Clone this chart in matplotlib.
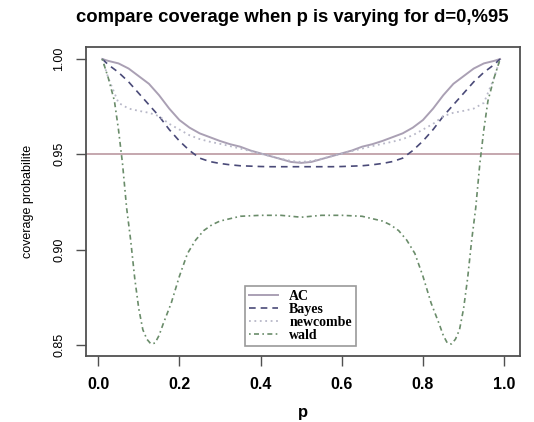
import matplotlib
matplotlib.use("Agg")
import matplotlib.pyplot as plt

# ---- data ----
p = [0.01, 0.025, 0.05, 0.075, 0.10, 0.125, 0.15, 0.175, 0.20, 0.225, 0.25, 0.275,
     0.30, 0.325, 0.35, 0.375, 0.40, 0.425, 0.45, 0.475, 0.50,
     0.525, 0.55, 0.575, 0.60, 0.625, 0.65, 0.675, 0.70, 0.725, 0.75, 0.775,
     0.80, 0.825, 0.85, 0.875, 0.90, 0.925, 0.95, 0.975, 0.99]

ac = [1.000, 0.999, 0.9977, 0.995, 0.991, 0.987, 0.981, 0.974, 0.968, 0.964, 0.961, 0.959,
      0.957, 0.9553, 0.954, 0.952, 0.9505, 0.949, 0.9475, 0.946, 0.9455,
      0.946, 0.9475, 0.949, 0.9505, 0.952, 0.954, 0.9553, 0.957, 0.959, 0.961, 0.964,
      0.968, 0.974, 0.981, 0.987, 0.991, 0.995, 0.9977, 0.999, 1.000]

bayes = [1.000, 0.997, 0.993, 0.988, 0.982, 0.976, 0.970, 0.963, 0.957, 0.952, 0.948, 0.9462,
         0.9452, 0.9445, 0.944, 0.9438, 0.9436, 0.9435, 0.9435, 0.9435, 0.9435,
         0.9435, 0.9435, 0.9435, 0.9436, 0.9438, 0.944, 0.9445, 0.9452, 0.9462, 0.948, 0.952,
         0.957, 0.963, 0.970, 0.976, 0.982, 0.988, 0.993, 0.997, 1.000]

newcombe = [1.000, 0.990, 0.977, 0.974, 0.9728, 0.9718, 0.970, 0.966, 0.963, 0.960, 0.958, 0.9566,
            0.9555, 0.9543, 0.953, 0.9517, 0.9503, 0.949, 0.9477, 0.9465, 0.946,
            0.9465, 0.9477, 0.949, 0.9503, 0.9517, 0.953, 0.9543, 0.9555, 0.9566, 0.958, 0.960,
            0.963, 0.966, 0.970, 0.9718, 0.9728, 0.974, 0.977, 0.990, 1.000]

p_wald = [0.01, 0.025, 0.04, 0.05, 0.06, 0.07, 0.08, 0.09, 0.10, 0.11, 0.12, 0.13, 0.14,
          0.15, 0.16, 0.18, 0.20, 0.22, 0.24, 0.26, 0.28, 0.30, 0.35, 0.40, 0.45, 0.50,
          0.55, 0.60, 0.65, 0.70, 0.72, 0.74, 0.76, 0.78, 0.80, 0.82, 0.84, 0.85, 0.86,
          0.87, 0.88, 0.89, 0.90, 0.91, 0.92, 0.93, 0.94, 0.95, 0.96, 0.975, 0.99]

wald = [1.000, 0.990, 0.978, 0.963, 0.945, 0.922, 0.905, 0.885, 0.869, 0.858, 0.853, 0.8505, 0.851,
        0.855, 0.861, 0.872, 0.886, 0.898, 0.905, 0.910, 0.913, 0.915, 0.9175, 0.918, 0.918, 0.917,
        0.918, 0.918, 0.9175, 0.915, 0.913, 0.910, 0.905, 0.898, 0.886, 0.872, 0.861, 0.855, 0.851,
        0.8505, 0.853, 0.858, 0.869, 0.885, 0.905, 0.922, 0.945, 0.963, 0.978, 0.990, 1.000]

ref_level = 0.95
series_labels = ["AC", "Bayes", "newcombe", "wald"]
xticks = [0.0, 0.2, 0.4, 0.6, 0.8, 1.0]
xtick_labels = ["0.0", "0.2", "0.4", "0.6", "0.8", "1.0"]
yticks = [0.85, 0.90, 0.95, 1.00]
ytick_labels = ["0.85", "0.90", "0.95", "1.00"]
title = "compare coverage when p is varying for d=0,%95"

# ---- figure ----
W, H = 534, 422
fig = plt.figure(figsize=(W / 100, H / 100), dpi=100)
ax = fig.add_axes([86 / W, 1 - 356 / H, (520 - 86) / W, (356 - 47) / H])

c_ac = "#aaa0b4"
c_bayes = "#4a4a78"
c_new = "#b8b8c8"
c_wald = "#6a8c6a"

ax.axhline(ref_level, color="#c0a0a8", lw=1.3, zorder=1)
ax.plot(p, ac, color=c_ac, lw=1.4, ls="-", label=series_labels[0])
ax.plot(p, bayes, color=c_bayes, lw=1.2, ls=(0, (4, 3)), label=series_labels[1])
ax.plot(p, newcombe, color=c_new, lw=1.3, ls=(0, (1, 2)), label=series_labels[2])
ax.plot(p_wald, wald, color=c_wald, lw=1.2, ls=(0, (1, 2, 3, 2)), label=series_labels[3])

ax.set_xlim(-0.03, 1.039)
ax.set_ylim(0.8442, 1.0063)

for s in ax.spines.values():
    s.set_color("#505050")
    s.set_linewidth(1.3)

ax.set_xticks(xticks)
ax.set_xticklabels(xtick_labels, fontsize=11.5, fontweight="bold", family="Liberation Sans")
ax.set_yticks(yticks)
ax.set_yticklabels(ytick_labels, fontsize=9, family="Liberation Sans", rotation=90, va="center")
ax.tick_params(axis="both", direction="out", length=7, width=1, color="#505050")
ax.tick_params(axis="x", pad=8)
ax.tick_params(axis="y", pad=8)

ax.set_xlabel("p", fontsize=12, fontweight="bold", family="Liberation Sans")
ax.xaxis.set_label_coords(0.5, -0.16)
ax.set_ylabel("coverage probabilite", fontsize=9, family="Liberation Sans", labelpad=14)

fig.text(292 / W, 1 - 17 / H, title, ha="center", va="center",
         fontsize=13.3, fontweight="bold", family="Liberation Sans")

leg = ax.legend(loc="lower left", bbox_to_anchor=(0.366, 0.032), fancybox=False,
                prop={"family": "Liberation Serif", "weight": "bold", "size": 10},
                handlelength=2.1, handletextpad=0.8, borderpad=0.3, labelspacing=0.0,
                borderaxespad=0)
leg.get_frame().set_edgecolor("#808080")
leg.get_frame().set_linewidth(1.2)

fig.savefig("out.png", dpi=100)
